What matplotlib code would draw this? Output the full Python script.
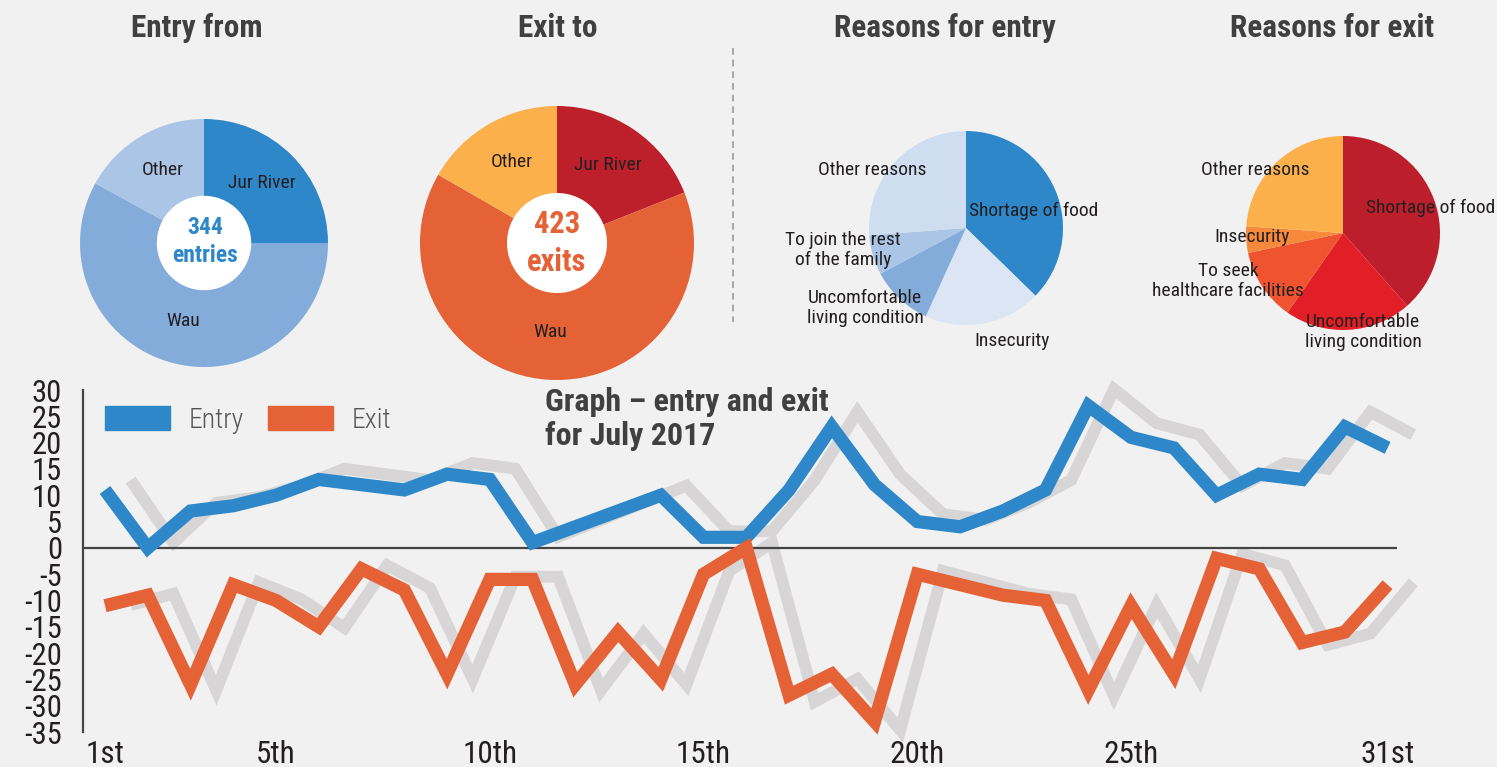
import matplotlib
matplotlib.use("Agg")
import matplotlib.pyplot as plt
import matplotlib.patches as mpatches
from matplotlib.lines import Line2D
import numpy as np

plt.rcParams['font.family'] = ['Roboto Condensed', 'Liberation Sans Narrow', 'Roboto', 'DejaVu Sans']
plt.rcParams['axes.unicode_minus'] = False

# ---- data ----
entry_from_labels = ['Jur River', 'Wau', 'Other']
entry_from_pct = [25, 58, 17]
exit_to_labels = ['Jur River', 'Wau', 'Other']
exit_to_pct = [19, 64.3, 16.7]

entry_reason_labels = ['Shortage of food', 'Insecurity', 'Uncomfortable\nliving condition',
                       'To join the rest\nof the family', 'Other reasons']
entry_reason_pct = [37.3, 19.5, 10.4, 6.6, 26.2]
exit_reason_labels = ['Shortage of food', 'Uncomfortable\nliving condition',
                      'To seek\nhealthcare facilities', 'Insecurity', 'Other reasons']
exit_reason_pct = [38.5, 21.2, 12.0, 4.4, 23.9]

total_entries = 344
total_exits = 423

days = list(range(1, 32))
day_ticks = [1, 5, 10, 15, 20, 25, 31]
day_tick_labels = ['1st', '5th', '10th', '15th', '20th', '25th', '31st']
entries = [11, 0, 7, 8, 10, 13, 12, 11, 14, 13, 1, 4, 7, 10, 2, 2,
           11, 23, 12, 5, 4, 7, 11, 27, 21, 19, 10, 14, 13, 23, 19]
exits = [-11, -9, -26, -7, -10, -15, -4, -8, -24, -6, -6, -26, -16, -25, -5, 0,
         -28, -24, -33, -5, -7, -9, -10, -27, -11, -24, -2, -4, -18, -16, -7]

# ---- style ----
BG = '#f1f1f1'
BLUE = '#2d87c8'
ORANGE = '#e56236'
SHADOW = '#d7d5d6'
TXT = '#231f20'
TITLE = '#404040'

W, H = 1497, 767
fig = plt.figure(figsize=(W / 100, H / 100), dpi=100, facecolor=BG)


def fx(px):
    return px / W


def fy(py):
    return 1 - py / H


def px_axes(x0, y0, x1, y1):
    return fig.add_axes([x0 / W, 1 - y1 / H, (x1 - x0) / W, (y1 - y0) / H])


def draw_pie(cx, cy, r, values, colors, hole=None):
    ax = px_axes(cx - r, cy - r, cx + r, cy + r)
    ax.pie(values, colors=colors, startangle=90, counterclock=False,
           radius=1, wedgeprops=dict(linewidth=0))
    if hole:
        ax.add_patch(mpatches.Circle((0, 0), hole, color='white', zorder=5))
    ax.set_xlim(-1, 1)
    ax.set_ylim(-1, 1)
    ax.set_aspect('equal')
    ax.axis('off')
    return ax


def label(px, py, s, size=14, **kw):
    fig.text(fx(px), fy(py), s, ha=kw.pop('ha', 'center'), va='center',
             fontsize=size, color=kw.pop('color', TXT), linespacing=1.15, **kw)


# titles
for x, t in [(197, 'Entry from'), (558, 'Exit to'),
             (945, 'Reasons for entry'), (1332, 'Reasons for exit')]:
    fig.text(fx(x), fy(28), t, ha='center', va='center', fontsize=22.5,
             fontweight='bold', color=TITLE)

fig.add_artist(Line2D([fx(733), fx(733)], [fy(48), fy(322)], color='#9a9a9a',
                      lw=1.2, ls=(0, (4, 3))))

# pie 1
draw_pie(204, 243, 124, entry_from_pct, [BLUE, '#84acdb', '#abc5e6'], hole=0.375)
label(262, 183, entry_from_labels[0])
label(183, 321, entry_from_labels[1])
label(163, 170, entry_from_labels[2])
label(205, 228, str(total_entries), size=17, color=BLUE, fontweight='bold')
label(205, 256, 'entries', size=17, color=BLUE, fontweight='bold')

# pie 2
draw_pie(557, 243, 137, exit_to_pct, ['#bd1f2b', ORANGE, '#fbb04c'], hole=0.36)
label(608, 165, exit_to_labels[0])
label(550, 332, exit_to_labels[1])
label(512, 162, exit_to_labels[2])
label(557, 224, str(total_exits), size=22, color=ORANGE, fontweight='bold')
label(557, 262, 'exits', size=22, color=ORANGE, fontweight='bold')

# pie 3
draw_pie(966, 228, 97, entry_reason_pct,
         [BLUE, '#dbe5f4', '#84acdb', '#abc5e6', '#cfddf1'])
label(1034, 211, entry_reason_labels[0], size=14)
label(1012, 341, entry_reason_labels[1], size=14)
label(865, 308, entry_reason_labels[2], size=14)
label(843, 250, entry_reason_labels[3], size=14)
label(872, 170, entry_reason_labels[4], size=14)

# pie 4
draw_pie(1343, 233, 97, exit_reason_pct,
         ['#bc1f2b', '#e21e26', '#ef5330', '#f6893a', '#fbb04c'])
label(1366, 208, exit_reason_labels[0], size=14, ha='left')
label(1363, 332, exit_reason_labels[1], size=14)
label(1228, 281, exit_reason_labels[2], size=14)
label(1252, 237, exit_reason_labels[3], size=14)
label(1255, 170, exit_reason_labels[4], size=14)

# ---- line chart ----
ax = px_axes(83, 390, 1397, 732)
ax.set_facecolor('none')
ax.set_xlim(0.485, 31.22)
ax.set_ylim(-35, 30)

SHADOW_DX, SHADOW_SCALE, SHADOW_LIFT = 0.6, 1.08, 1.0
x = np.array(days, dtype=float)
for series in (entries, exits):
    s = np.array(series, dtype=float)
    ax.plot(x + SHADOW_DX, s * SHADOW_SCALE + SHADOW_LIFT, color=SHADOW, lw=8.5,
            solid_joinstyle='miter', solid_capstyle='butt', clip_on=False, zorder=1)

ax.axhline(0, color='#444444', lw=1.6, zorder=2)
ax.plot(x, entries, color=BLUE, lw=9.5, solid_joinstyle='miter',
        solid_capstyle='butt', clip_on=False, zorder=3)
ax.plot(x, exits, color=ORANGE, lw=9.5, solid_joinstyle='miter',
        solid_capstyle='butt', clip_on=False, zorder=3)

for sp in ['top', 'right', 'bottom']:
    ax.spines[sp].set_visible(False)
ax.spines['left'].set_color('#444444')
ax.spines['left'].set_linewidth(1.6)

ax.set_yticks(range(-35, 31, 5))
ax.set_xticks(day_ticks)
ax.set_xticklabels(day_tick_labels)
ax.tick_params(axis='y', length=0, labelsize=22, pad=15, colors=TXT)
ax.tick_params(axis='x', length=0, labelsize=22.5, pad=6, colors=TXT)

handles = [mpatches.Patch(color=BLUE, label='Entry'),
           mpatches.Patch(color=ORANGE, label='Exit')]
leg = fig.legend(handles=handles, loc='upper left', ncol=2, frameon=False,
                 bbox_to_anchor=(fx(105), fy(406)), borderpad=0, borderaxespad=0,
                 prop=dict(size=20, weight='light'), handlelength=2.35,
                 handleheight=0.97, handletextpad=0.65, columnspacing=0.88,
                 labelcolor='#555555')

fig.text(fx(545), fy(419), 'Graph – entry and exit\nfor July 2017', ha='left',
         va='center', fontsize=23, fontweight='bold', color=TITLE, linespacing=1.15)

fig.savefig('out.png', dpi=100, facecolor=BG)
